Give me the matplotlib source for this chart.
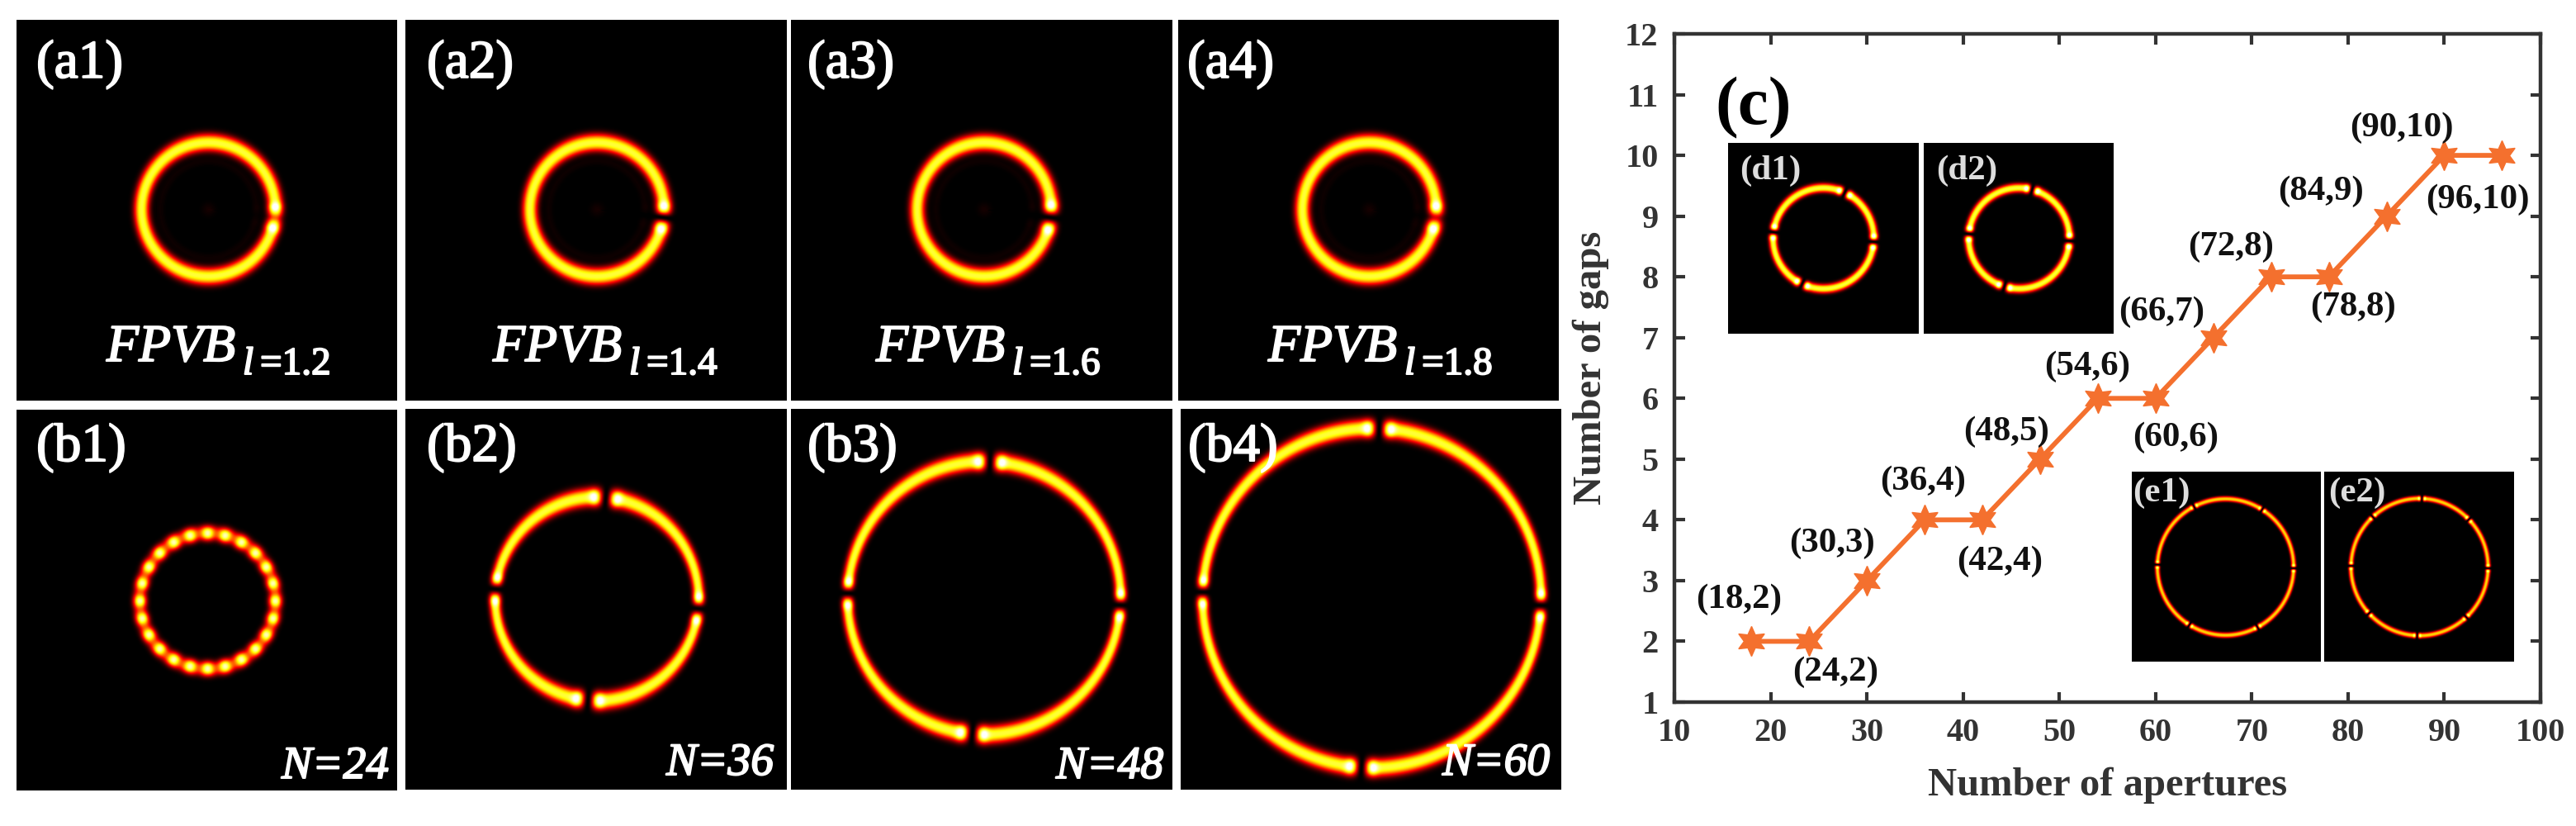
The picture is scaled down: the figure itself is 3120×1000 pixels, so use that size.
import numpy as np
import matplotlib
matplotlib.use("Agg")
import matplotlib.pyplot as plt
import matplotlib.patheffects as pe
from matplotlib.colors import LinearSegmentedColormap

W, H = 3120, 1000
plt.rcParams["font.family"] = ["Liberation Serif", "DejaVu Serif"]

# chart (c)
apertures = [18, 24, 30, 36, 42, 48, 54, 60, 66, 72, 78, 84, 90, 96]
gaps_count = [2, 2, 3, 4, 4, 5, 6, 6, 7, 8, 8, 9, 10, 10]
label_shift = [(-15, 51), (32, -37), (-42, 45), (-2, 47), (21, -50), (-41, 33), (-13, 39),
               (24, -47), (-63, 31), (-49, 36), (29, -37), (-80, 30), (-52, 33), (-30, -54)]

# beam panels: ring radius, ring width and gap angles in degrees
a_names = ["(a1)", "(a2)", "(a3)", "(a4)"]
a_charge = ["=1.2", "=1.4", "=1.6", "=1.8"]
a_gaps = [[-7], [-7], [-7], [-7]]
a_depth = [0.35, 1.0, 1.0, 0.6]
a_core = [5, 6, 7, 6]
b_names = ["(b1)", "(b2)", "(b3)", "(b4)"]
b_text = ["N=24", "N=36", "N=48", "N=60"]
b_radius = [82, 123, 165, 205]
b_gaps = [[], [85, 174.5, 265, -5.5], [87.5, 178, 265, -3], [87.5, 178, 266.5, -2.5]]
d_gaps = [[65, 173, 245, -4], [75, 175, 253, -3]]
e_gaps = [[57.5, 117.5, 178, 238, 298, -1], [44, 88, 133, 179, 222.5, 268, 313, -1]]

# same ramp as "hot" but starting from pure black
beam_cmap = LinearSegmentedColormap.from_list(
    "beam", [(0, "#000000"), (0.365, "#ff0000"), (0.746, "#ffff00"), (1, "#ffffff")])
soft = [pe.withStroke(linewidth=1.4, foreground="white")]


def px_axes(x0, y0, x1, y1, **kw):
    return fig.add_axes([x0 / W, 1 - y1 / H, (x1 - x0) / W, (y1 - y0) / H], **kw)


def ftext(x, y, s, **kw):
    return fig.text(x / W, 1 - y / H, s, color=kw.pop("color", "white"), **kw)


def ring_panel(box, center, radius, width, gaps, core=6, spot=13, depth=1.0, lobes=0,
               amp=0.8, fringe=0.0, thick=0.25):
    # intensity ring in panel pixels, dark notch + bright spot at each gap
    x0, y0, x1, y1 = box
    yy, xx = np.mgrid[y0:y1, x0:x1]
    dx = xx - center[0]
    dy = center[1] - yy
    r = np.hypot(dx, dy)
    th = np.arctan2(dy, dx)
    w = 1.1 * width * (1 - thick / 2 + thick * np.sin(th) ** 2)
    img = amp * np.exp(-np.abs((r - radius) / w) ** 2.4)
    if fringe:
        img += fringe * np.exp(-((r - radius * 0.72) / (width * 0.6)) ** 2)
        img += fringe * 1.5 * np.exp(-(r / 8) ** 2)
    if lobes:
        img *= 0.9 + 0.26 * np.cos(lobes * (th - np.pi / 2))
    for g in gaps:
        d = np.angle(np.exp(1j * (th - np.radians(g)))) * radius
        img *= 1 - depth * np.exp(-(d / core) ** 2)
        img *= 1 + 0.34 * np.exp(-((np.abs(d) - spot) / (spot * 0.45)) ** 2)
    ax = px_axes(x0, y0, x1, y1)
    ax.imshow(img, cmap=beam_cmap, vmin=0, vmax=1, aspect="auto", interpolation="bilinear")
    ax.axis("off")
    return ax


fig = plt.figure(figsize=(W / 100, H / 100), dpi=100, facecolor="white")

a_x = [20, 491, 958, 1427]
a_cx = [252, 722, 1191, 1658]
a_lx = [44, 517, 978, 1438]
a_fx = [129, 597, 1061, 1536]
for i in range(4):
    ring_panel((a_x[i], 24, a_x[i] + 461, 485), (a_cx[i], 253), 81, 8.6, a_gaps[i],
               core=a_core[i], spot=a_core[i] + 8, depth=a_depth[i], fringe=0.02, thick=0.15)
    ftext(a_lx[i], 78, a_names[i], fontsize=47, va="center", path_effects=soft)
    ftext(a_fx[i], 437, "FPVB", fontsize=46, style="italic", va="baseline", path_effects=soft)
    ftext(a_fx[i] + 165, 453, "l", fontsize=34, style="italic", va="baseline", path_effects=soft)
    ftext(a_fx[i] + 186, 453, a_charge[i], fontsize=34, va="baseline", path_effects=soft)

b_x = [20, 491, 958, 1430]
b_cx = [251, 722, 1191, 1661]
b_cy = [727, 725, 724, 724]
b_tx = [471, 937, 1409, 1877]
b_ty = [942, 938, 942, 938]
b_y0 = [496, 495, 495, 495]
b_lx = [44, 517, 978, 1439]
for i in range(4):
    ring_panel((b_x[i], b_y0[i], b_x[i] + 461, b_y0[i] + 461), (b_cx[i], b_cy[i]), b_radius[i],
               7.8 if i else 7.4, b_gaps[i], core=7, spot=14, lobes=24 if i == 0 else 0,
               thick=0.45 if i else 0.1)
    ftext(b_lx[i], 542, b_names[i], fontsize=47, va="center", path_effects=soft)
    ftext(b_tx[i], b_ty[i], b_text[i], fontsize=40, style="italic", ha="right", va="baseline",
          path_effects=soft)

# line chart
ax = px_axes(2028, 41, 3077, 850)
ax.plot(apertures, gaps_count, color="#f4702e", lw=4.2, marker=(6, 1, 0), ms=26, mec="#f4702e", mew=1)
ax.set_xlim(10, 100)
ax.set_ylim(1, 12)
ax.set_xticks(range(10, 101, 10))
ax.set_yticks(range(1, 13))
ax.tick_params(direction="in", length=9, width=3, top=True, right=True, color="#333333",
               labelcolor="#333333", labelsize=29, pad=14)
for t in ax.get_xticklabels() + ax.get_yticklabels():
    t.set_fontweight("bold")
for s in ax.spines.values():
    s.set_linewidth(3.2)
    s.set_color("#333333")
ax.set_xlabel("Number of apertures", fontsize=35, fontweight="bold", color="#333333", labelpad=16)
ax.set_ylabel("Number of gaps", fontsize=35, fontweight="bold", color="#333333", labelpad=14)
for xv, yv, sh in zip(apertures, gaps_count, label_shift):
    ax.annotate(f"({xv},{yv})", (xv, yv), xytext=sh, textcoords="offset pixels", fontsize=31,
                fontweight="bold", color="#111111", ha="center", va="center")
ftext(2124, 131, "(c)", color="black", fontsize=60, fontweight="bold", ha="center", va="center")

# insets
ring_panel((2093, 173, 2324, 404), (2208, 288), 61, 4.6, d_gaps[0], core=3.2, spot=7, thick=0.1)
ring_panel((2330, 173, 2560, 404), (2445, 288), 61, 4.6, d_gaps[1], core=3.2, spot=7, thick=0.1)
ring_panel((2582, 571, 2811, 801), (2695, 686), 82.5, 2.7, e_gaps[0], core=1.6, spot=3.5, amp=0.68, thick=0.1)
ring_panel((2815, 571, 3045, 801), (2930, 686), 83, 2.7, e_gaps[1], core=1.6, spot=3.5, amp=0.68, thick=0.1)
ftext(2107, 207, "(d1)", color="#dddddd", fontsize=31, fontweight="bold", va="center", zorder=5)
ftext(2345, 207, "(d2)", color="#dddddd", fontsize=31, fontweight="bold", va="center", zorder=5)
ftext(2583, 597, "(e1)", color="#dddddd", fontsize=31, fontweight="bold", va="center", zorder=5)
ftext(2820, 597, "(e2)", color="#dddddd", fontsize=31, fontweight="bold", va="center", zorder=5)

fig.savefig("out.png", dpi=100)
